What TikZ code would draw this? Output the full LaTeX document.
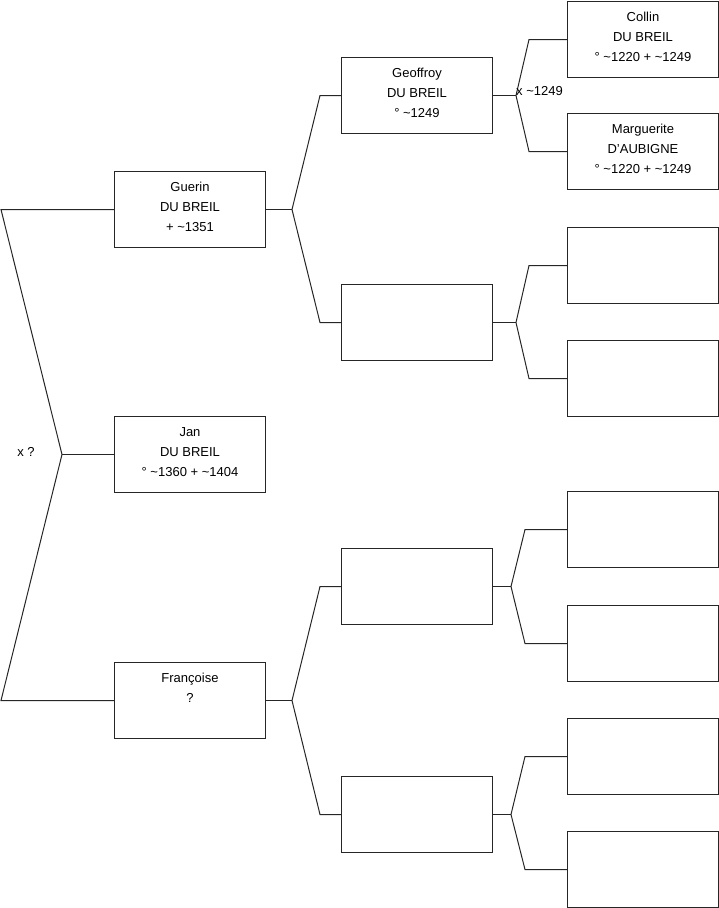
\documentclass[tikz,border=0pt]{standalone}
\usepackage{fontspec}
\setmainfont{Liberation Sans}
\newcommand{\tl}{\textasciitilde}
\begin{document}
\begin{tikzpicture}[x=1pt,y=-1pt,
  pbox/.style={draw=black!85, line width=1pt, minimum width=151pt, minimum height=76pt,
    anchor=north west, align=center, inner sep=0pt, text depth=5pt, font=\fontsize{13}{20}\selectfont},
  conn/.style={draw=black!85, line width=1pt},
  lbl/.style={font=\fontsize{13}{15}\selectfont, inner sep=0pt}]
\useasboundingbox (0,0) rectangle (719,908);
% level 1
\node[pbox] (guerin) at (114,171) {Guerin\\DU BREIL\\+ \tl1351};
\node[pbox] (jan) at (114,416) {Jan\\DU BREIL\\° \tl1360 + \tl1404};
\node[pbox] (fran) at (114,662) {Françoise\\?\\~};
% level 2
\node[pbox] (geof) at (341,57) {Geoffroy\\DU BREIL\\° \tl1249};
\node[pbox] (b2) at (341,284) {};
\node[pbox] (b3) at (341,548) {};
\node[pbox] (b4) at (341,776) {};
% level 3
\node[pbox] (collin) at (567,1) {Collin\\DU BREIL\\° \tl1220 + \tl1249};
\node[pbox] (marg) at (567,113) {Marguerite\\D'AUBIGNE\\° \tl1220 + \tl1249};
\node[pbox] (c3) at (567,227) {};
\node[pbox] (c4) at (567,340) {};
\node[pbox] (c5) at (567,491) {};
\node[pbox] (c6) at (567,605) {};
\node[pbox] (c7) at (567,718) {};
\node[pbox] (c8) at (567,831) {};
% fork coordinates
\coordinate (f0) at ([xshift=-52pt]jan.west);
\coordinate (f1) at ([xshift=26pt]guerin.east);
\coordinate (f2) at ([xshift=26pt]fran.east);
\coordinate (g1) at ([xshift=23pt]geof.east);
\coordinate (g2) at ([xshift=23pt]b2.east);
\coordinate (g3) at ([xshift=18pt]b3.east);
\coordinate (g4) at ([xshift=18pt]b4.east);
% root fork
\draw[conn] (guerin.west) -- ++(-113,0) -- (f0) -- ([xshift=-113pt]fran.west) -- (fran.west);
\draw[conn] (f0) -- (jan.west);
\node[lbl] (xq) at (26,452) {x ?};
% level 1 -> level 2
\draw[conn] (guerin.east) -- (f1);
\draw[conn] (geof.west) -- ++(-21,0) -- (f1) -- ([xshift=-21pt]b2.west) -- (b2.west);
\draw[conn] (fran.east) -- (f2);
\draw[conn] (b3.west) -- ++(-21,0) -- (f2) -- ([xshift=-21pt]b4.west) -- (b4.west);
% level 2 -> level 3
\draw[conn] (geof.east) -- (g1);
\draw[conn] (collin.west) -- ++(-38,0) -- (g1) -- ([xshift=-38pt]marg.west) -- (marg.west);
\node[lbl, anchor=west] (x1249) at ([yshift=4pt]g1) {x \tl1249};
\draw[conn] (b2.east) -- (g2);
\draw[conn] (c3.west) -- ++(-38,0) -- (g2) -- ([xshift=-38pt]c4.west) -- (c4.west);
\draw[conn] (b3.east) -- (g3);
\draw[conn] (c5.west) -- ++(-42,0) -- (g3) -- ([xshift=-42pt]c6.west) -- (c6.west);
\draw[conn] (b4.east) -- (g4);
\draw[conn] (c7.west) -- ++(-42,0) -- (g4) -- ([xshift=-42pt]c8.west) -- (c8.west);
\end{tikzpicture}
\end{document}
